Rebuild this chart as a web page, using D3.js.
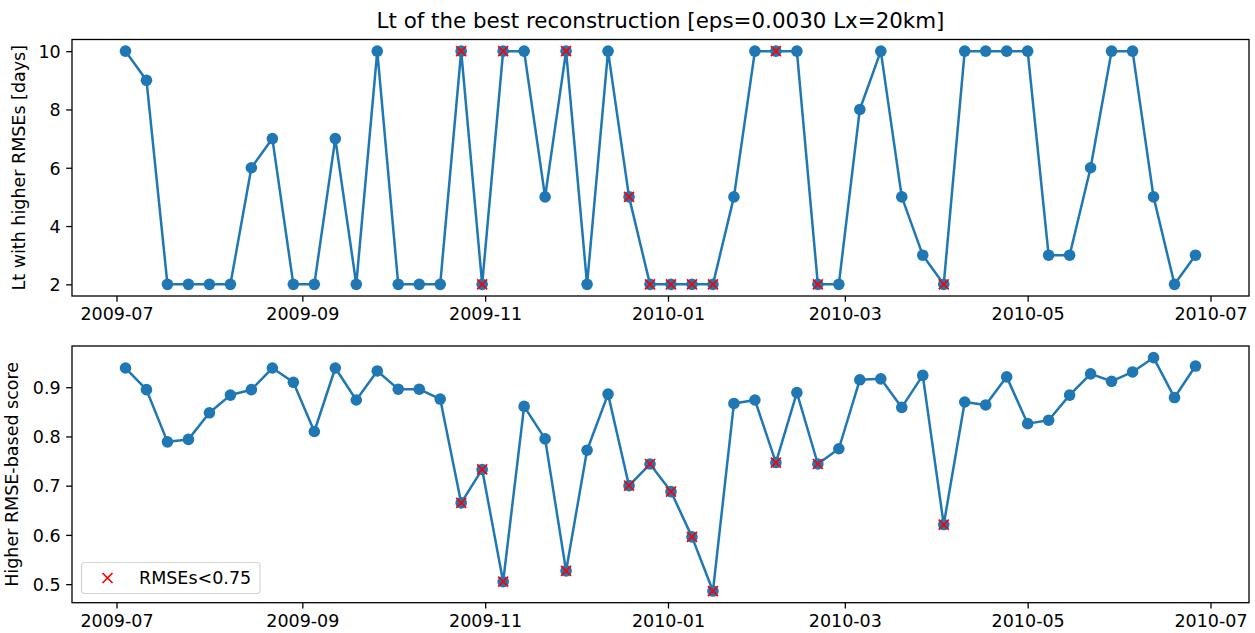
<!DOCTYPE html>
<html>
<head>
<meta charset="utf-8">
<script src="https://cdn.jsdelivr.net/npm/d3@7"></script>
<style>
  html, body { margin: 0; padding: 0; background: #fff; }
  svg { display: block; font-family: "DejaVu Sans", sans-serif; }
</style>
</head>
<body>
<svg id="chart" width="1255" height="633"></svg>
<script>
// Weekly reconstruction dates
const dates = [
  "2009-07-04","2009-07-11","2009-07-18","2009-07-25","2009-08-01","2009-08-08","2009-08-15","2009-08-22","2009-08-29",
  "2009-09-05","2009-09-12","2009-09-19","2009-09-26","2009-10-03","2009-10-10","2009-10-17","2009-10-24","2009-10-31",
  "2009-11-07","2009-11-14","2009-11-21","2009-11-28","2009-12-05","2009-12-12","2009-12-19","2009-12-26",
  "2010-01-02","2010-01-09","2010-01-16","2010-01-23","2010-01-30","2010-02-06","2010-02-13","2010-02-20","2010-02-27",
  "2010-03-06","2010-03-13","2010-03-20","2010-03-27","2010-04-03","2010-04-10","2010-04-17","2010-04-24",
  "2010-05-01","2010-05-08","2010-05-15","2010-05-22","2010-05-29","2010-06-05","2010-06-12","2010-06-19","2010-06-26"
];

// Lt (days) of the best reconstruction
const ltDays = [
  10, 9, 2, 2, 2, 2, 6, 7, 2, 2, 7, 2, 10, 2, 2, 2, 10, 2, 10, 10, 5, 10, 2, 10, 5, 2,
  2, 2, 2, 5, 10, 10, 10, 2, 2, 8, 10, 5, 3, 2, 10, 10, 10, 10, 3, 3, 6, 10, 10, 5, 2, 3
];

// Higher RMSE-based score
const score = [
  0.939, 0.895, 0.789, 0.794, 0.848, 0.884, 0.895, 0.939, 0.910, 0.810, 0.939, 0.874, 0.933,
  0.896, 0.896, 0.876, 0.665, 0.733, 0.505, 0.861, 0.795, 0.527, 0.772, 0.886, 0.700, 0.744,
  0.688, 0.596, 0.486, 0.867, 0.874, 0.747, 0.889, 0.744, 0.775, 0.915, 0.917, 0.859, 0.924,
  0.621, 0.870, 0.864, 0.921, 0.826, 0.833, 0.884, 0.927, 0.912, 0.931, 0.960, 0.879, 0.943
];

const threshold = 0.75;

const xTickLabels = ["2009-07","2009-09","2009-11","2010-01","2010-03","2010-05","2010-07"];
const ltTicks = [2, 4, 6, 8, 10];
const scoreTicks = [0.5, 0.6, 0.7, 0.8, 0.9];

const titleText = "Lt of the best reconstruction [eps=0.0030 Lx=20km]";
const ltLabel = "Lt with higher RMSEs [days]";
const scoreLabel = "Higher RMSE-based score";
const legendText = "RMSEs<0.75";

const BLUE = "#1f77b4";
const RED = "#ff0000";
const FONT = 17.5;

const parse = d3.utcParse("%Y-%m-%d");
const parseMonth = d3.utcParse("%Y-%m");
const fmtMonth = d3.utcFormat("%Y-%m");
const rows = dates.map((d, i) => ({ date: parse(d), lt: ltDays[i], score: score[i], low: score[i] < threshold }));

const svg = d3.select("#chart");

const left = 72, right = 1249;

// matplotlib-style 5% margins around the data
function padded(ext) {
  const span = ext[1] - ext[0];
  return [ext[0] - span * 0.05, ext[1] + span * 0.05];
}

const tExt = d3.extent(rows, d => +d.date);
const tDom = padded(tExt);
const x = d3.scaleUtc().domain([new Date(tDom[0]), new Date(tDom[1])]).range([left, right]);
const xTicks = xTickLabels.map(s => parseMonth(s));

function panel(opts) {
  const { top, bottom, key, yTicks, yFmt, label, labelX } = opts;
  const y = d3.scaleLinear().domain(padded(d3.extent(rows, d => d[key]))).range([bottom, top]);
  const g = svg.append("g");

  // x axis
  const xa = g.append("g").attr("transform", `translate(0,${bottom})`)
    .call(d3.axisBottom(x).tickValues(xTicks).tickFormat(fmtMonth).tickSizeOuter(0).tickSize(5.8).tickPadding(5));
  xa.select(".domain").remove();
  xa.selectAll(".tick line").attr("stroke", "#000").attr("stroke-width", 1.3);
  xa.selectAll(".tick text").attr("font-size", FONT).attr("fill", "#000")
    .attr("font-family", "DejaVu Sans").attr("dy", "0.75em");

  // y axis
  const ya = g.append("g").attr("transform", `translate(${left},0)`)
    .call(d3.axisLeft(y).tickValues(yTicks).tickFormat(yFmt).tickSizeOuter(0).tickSize(5.8).tickPadding(5.5));
  ya.select(".domain").remove();
  ya.selectAll(".tick line").attr("stroke", "#000").attr("stroke-width", 1.3);
  ya.selectAll(".tick text").attr("font-size", FONT).attr("fill", "#000")
    .attr("font-family", "DejaVu Sans").attr("dy", "0.36em");

  // y label
  g.append("text")
    .attr("transform", `translate(${labelX},${(top + bottom) / 2}) rotate(-90)`)
    .attr("text-anchor", "middle").attr("font-size", FONT).attr("fill", "#000")
    .text(label);

  // series line + dots
  const line = d3.line().x(d => x(d.date)).y(d => y(d[key]));
  g.append("path").datum(rows).attr("d", line)
    .attr("fill", "none").attr("stroke", BLUE).attr("stroke-width", 2.5).attr("stroke-linejoin", "round");
  g.append("g").selectAll("circle").data(rows).join("circle")
    .attr("cx", d => x(d.date)).attr("cy", d => y(d[key])).attr("r", 5.8).attr("fill", BLUE);

  // red crosses for low-score weeks
  const s = 5;
  g.append("g").selectAll("path").data(rows.filter(d => d.low)).join("path")
    .attr("d", d => {
      const cx = x(d.date), cy = y(d[key]);
      return `M${cx - s},${cy - s}L${cx + s},${cy + s}M${cx - s},${cy + s}L${cx + s},${cy - s}`;
    })
    .attr("stroke", RED).attr("stroke-width", 1.7).attr("fill", "none");

  // frame
  g.append("rect").attr("x", left).attr("y", top).attr("width", right - left).attr("height", bottom - top)
    .attr("fill", "none").attr("stroke", "#000").attr("stroke-width", 1.3);

  return { g, y };
}

panel({ top: 39.5, bottom: 296, key: "lt", yTicks: ltTicks, yFmt: d3.format("d"), label: ltLabel, labelX: 24.5 });
const bottomPanel = panel({ top: 346, bottom: 602.7, key: "score", yTicks: scoreTicks, yFmt: d3.format(".1f"), label: scoreLabel, labelX: 18 });

// title
svg.append("text").attr("x", (left + right) / 2).attr("y", 28)
  .attr("text-anchor", "middle").attr("font-size", 21.4).attr("fill", "#000")
  .text(titleText);

// legend
const lg = bottomPanel.g.append("g");
lg.append("rect").attr("x", 81.5).attr("y", 562.5).attr("width", 178.5).attr("height", 31)
  .attr("rx", 3).attr("fill", "#fff").attr("fill-opacity", 0.8)
  .attr("stroke", "#d5d5d5").attr("stroke-width", 1.2);
const lx = 107.5, ly = 578, ls = 5;
lg.append("path")
  .attr("d", `M${lx - ls},${ly - ls}L${lx + ls},${ly + ls}M${lx - ls},${ly + ls}L${lx + ls},${ly - ls}`)
  .attr("stroke", RED).attr("stroke-width", 1.7);
lg.append("text").attr("x", 139).attr("y", 584).attr("font-size", FONT).attr("fill", "#000").text(legendText);
</script>
</body>
</html>
